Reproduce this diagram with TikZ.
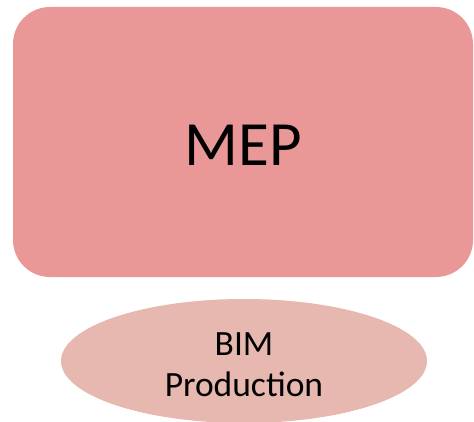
\documentclass[tikz,border=0pt]{standalone}
\usepackage{fontspec}
\setmainfont{Carlito}
\usetikzlibrary{shapes.geometric}
\definecolor{mepfill}{RGB}{233,151,151}
\definecolor{bimfill}{RGB}{230,184,175}
\begin{document}
\begin{tikzpicture}[x=1pt,y=-1pt,
  mepbox/.style={fill=mepfill,draw=none,rounded corners=37pt},
  bimell/.style={ellipse,fill=bimfill,draw=none,minimum width=366pt,minimum height=124pt,inner sep=0pt},
  bimtext/.style={inner sep=0pt,align=center,font=\fontsize{35.5}{41}\selectfont}]
\useasboundingbox (0,0) rectangle (474,422);
\path[mepbox] (13,7) rectangle (473,277);
\node[font=\fontsize{63}{63}\selectfont] (mep) at (243,145) {MEP};
\node[bimell] (bim) at (244,361) {};
\node[bimtext] (bimlabel) at (244,364.5) {BIM\\Production};
\end{tikzpicture}
\end{document}
